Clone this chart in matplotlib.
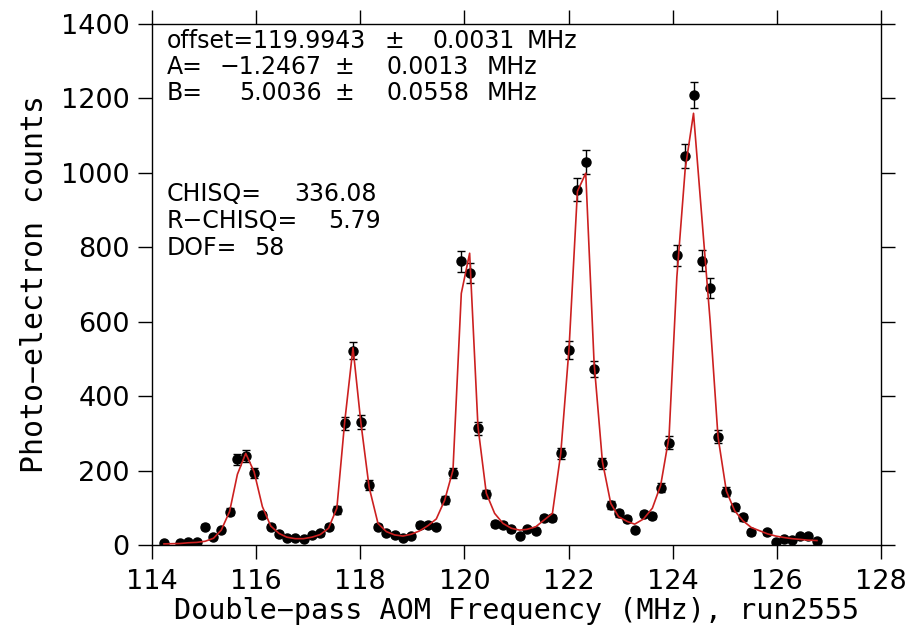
import numpy as np
import matplotlib
matplotlib.use("Agg")
import matplotlib.pyplot as plt

# AOM frequency scan, run2555
freq = [114.23, 114.54, 114.70, 114.86, 115.02, 115.18, 115.33, 115.49, 115.64, 115.80,
        115.96, 116.12, 116.28, 116.44, 116.59, 116.75, 116.91, 117.07, 117.23, 117.39,
        117.55, 117.70, 117.86, 118.01, 118.17, 118.34, 118.50, 118.66, 118.82, 118.98,
        119.14, 119.30, 119.46, 119.62, 119.78, 119.94, 120.10, 120.26, 120.42, 120.58,
        120.74, 120.90, 121.06, 121.20, 121.37, 121.53, 121.69, 121.85, 122.01, 122.17,
        122.33, 122.49, 122.65, 122.81, 122.96, 123.13, 123.27, 123.44, 123.61, 123.77,
        123.93, 124.08, 124.24, 124.40, 124.56, 124.72, 124.87, 125.03, 125.19, 125.35,
        125.51, 125.82, 125.98, 126.14, 126.29, 126.45, 126.60, 126.77]

counts = [5, 6, 7, 7, 49, 21, 40, 89, 230, 239,
          194, 81, 49, 29, 18, 18, 17, 26, 31, 49,
          94, 327, 522, 331, 161, 49, 33, 27, 20, 25,
          54, 54, 49, 121, 193, 762, 732, 314, 137, 56,
          54, 42, 25, 43, 38, 72, 72, 246, 524, 954,
          1028, 472, 220, 108, 85, 69, 40, 83, 78, 154,
          275, 778, 1046, 1208, 764, 690, 291, 143, 101, 74,
          34, 34, 9, 15, 13, 24, 24, 12]

# fitted model evaluated at the same frequencies
fit = [3, 4, 6, 7, 10, 18, 40, 90, 190, 246,
       197, 103, 51, 31, 21, 17, 17, 21, 28, 45,
       99, 330, 530, 330, 155, 58, 36, 27, 24, 29,
       38, 52, 70, 120, 201, 676, 784, 318, 139, 85,
       58, 45, 40, 42, 49, 67, 85, 246, 530, 950,
       999, 490, 224, 112, 76, 63, 56, 70, 99, 161,
       291, 720, 1010, 1160, 880, 600, 291, 145, 92, 65,
       47, 30, 24, 20, 17, 15, 13, 12]

fit_info = [["offset=119.9943", "±", "0.0031", "MHz"],
            ["A=", "−1.2467", "±", "0.0013", "MHz"],
            ["B=", "5.0036", "±", "0.0558", "MHz"]]
stats_info = [["CHISQ=", "336.08"], ["R−CHISQ=", "5.79"], ["DOF=", "58"]]

plt.rcParams['font.family'] = ['DejaVu Sans']

fig = plt.figure(figsize=(9.07, 6.26), dpi=100)
ax = fig.add_axes([0.1676, 0.1294, 0.8037, 0.8323])

ax.errorbar(freq, counts, yerr=np.sqrt(counts), fmt='o', color='black',
            ms=6.5, elinewidth=1.0, capsize=3, capthick=1.0, zorder=2)
ax.plot(freq, fit, color='#cc2020', lw=1.2, zorder=3)

ax.set_xlim(114, 128)
ax.set_ylim(0, 1400)
ax.set_xticks(np.arange(114, 129, 2))
ax.set_yticks(np.arange(0, 1401, 200))
ax.tick_params(direction='out', length=10, width=1.0, labelsize=19.5,
               top=True, right=True)
ax.tick_params(axis='y', pad=6)
ax.tick_params(axis='x', pad=7)
for s in ax.spines.values():
    s.set_linewidth(1.0)

ax.set_xlabel("Double−pass AOM Frequency (MHz), run2555", fontsize=20.5,
              family='DejaVu Sans Mono', labelpad=2)
ax.set_ylabel("Photo−electron counts", fontsize=21.5,
              family='DejaVu Sans Mono', labelpad=9)

# fit results text, placed in pixel-ish figure coordinates
W, H = 907.0, 626.0
def put(x, y, s, ha='left'):
    fig.text(x / W, 1 - y / H, s, ha=ha, va='center', fontsize=17)

put(167, 41, fit_info[0][0])
put(394, 41, fit_info[0][1], ha='center')
put(515, 41, fit_info[0][2], ha='right')
put(527, 41, fit_info[0][3])
for row, y in zip(fit_info[1:], [67, 93]):
    put(167, y, row[0])
    put(322, y, row[1], ha='right')
    put(344, y, row[2], ha='center')
    put(469, y, row[3], ha='right')
    put(487, y, row[4])

put(167, 194, stats_info[0][0]); put(377, 194, stats_info[0][1], ha='right')
put(167, 221, stats_info[1][0]); put(381, 221, stats_info[1][1], ha='right')
put(167, 248, stats_info[2][0]); put(284, 248, stats_info[2][1], ha='right')

fig.savefig("out.png", dpi=100)
